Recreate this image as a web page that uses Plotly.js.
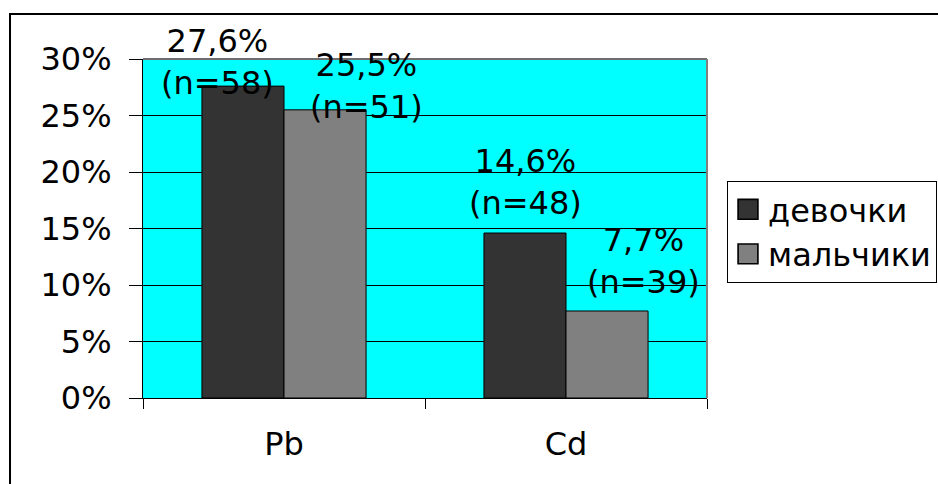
<!DOCTYPE html>
<html>
<head>
<meta charset="utf-8">
<script src="https://cdn.plot.ly/plotly-3.0.1.min.js"></script>
<style>
html,body{margin:0;padding:0;background:#fff;}
#chart{width:938px;height:484px;}
</style>
</head>
<body>
<div id="chart"></div>
<script>
// ---- data ----
const categories = ['Pb', 'Cd'];
const seriesNames = ['девочки', 'мальчики'];
const girlsPct = [27.6, 14.6];
const boysPct = [25.5, 7.7];
const girlsN = [58, 48];
const boysN = [51, 39];
const yTickVals = [0, 5, 10, 15, 20, 25, 30];
const yTickText = ['0%', '5%', '10%', '15%', '20%', '25%', '30%'];

// ---- label placement (style only) ----
const girlsLabelShift = [[-67, 24], [-41, 51]];
const boysLabelShift = [[82, 24], [77, 50]];

const FONT = 'DejaVu Sans, Liberation Sans, Arial, sans-serif';
const FS = 32;

function fmt(v, n) {
  return v.toFixed(1).replace('.', ',') + '%<br>(n=' + n + ')';
}

const traces = [
  {
    type: 'bar', name: seriesNames[0], x: categories, y: girlsPct,
    marker: {color: '#333333', line: {color: '#000000', width: 1}},
    hoverinfo: 'none'
  },
  {
    type: 'bar', name: seriesNames[1], x: categories, y: boysPct,
    marker: {color: '#808080', line: {color: '#000000', width: 1}},
    hoverinfo: 'none'
  }
];

const annotations = [];
categories.forEach((c, i) => {
  annotations.push({
    x: c, y: girlsPct[i], xref: 'x', yref: 'y', showarrow: false,
    text: fmt(girlsPct[i], girlsN[i]), xshift: girlsLabelShift[i][0], yshift: girlsLabelShift[i][1],
    xanchor: 'center', yanchor: 'middle', font: {family: FONT, size: FS, color: '#000'}
  });
  annotations.push({
    x: c, y: boysPct[i], xref: 'x', yref: 'y', showarrow: false,
    text: fmt(boysPct[i], boysN[i]), xshift: boysLabelShift[i][0], yshift: boysLabelShift[i][1],
    xanchor: 'center', yanchor: 'middle', font: {family: FONT, size: FS, color: '#000'}
  });
});

const layout = {
  width: 938, height: 484,
  margin: {l: 143, r: 231, t: 59, b: 86, pad: 0, autoexpand: false},
  paper_bgcolor: '#ffffff',
  plot_bgcolor: '#00ffff',
  font: {family: FONT, size: FS, color: '#000'},
  barmode: 'group',
  bargap: 0.418,
  bargroupgap: 0,
  showlegend: true,
  legend: {
    xref: 'container', yref: 'container',
    x: 727 / 938, xanchor: 'left', y: (484 - 181) / 484, yanchor: 'top',
    bordercolor: '#000', borderwidth: 1, bgcolor: '#fff',
    font: {family: FONT, size: FS, color: '#000'},
    itemclick: false, itemdoubleclick: false
  },
  xaxis: {
    type: 'category',
    showgrid: false, zeroline: false,
    showline: true, linecolor: '#000', linewidth: 1,
    ticks: 'outside', tickson: 'boundaries', ticklen: 10, tickcolor: '#000', tickwidth: 1,
    ticklabelstandoff: 18,
    tickfont: {family: FONT, size: FS, color: '#000'}
  },
  yaxis: {
    range: [0, 30],
    tickvals: yTickVals, ticktext: yTickText,
    showgrid: true, gridcolor: '#000', gridwidth: 1,
    zeroline: false,
    showline: true, linecolor: '#000', linewidth: 1,
    ticks: 'outside', ticklen: 13, tickcolor: '#000', tickwidth: 1,
    ticklabelstandoff: 11,
    tickfont: {family: FONT, size: FS, color: '#000'}
  },
  annotations: annotations,
  shapes: [
    {type: 'line', xref: 'paper', yref: 'paper', x0: 0, x1: 1, y0: 1, y1: 1, line: {color: '#6e6e6e', width: 2}},
    {type: 'line', xref: 'paper', yref: 'paper', x0: 1, x1: 1, y0: 0, y1: 1, line: {color: '#808080', width: 2}},
    {type: 'rect', xref: 'paper', yref: 'paper', x0: -0.2358, x1: 1.6, y0: -0.5, y1: 1.1327, line: {color: '#000', width: 2}, layer: 'below'}
  ]
};

Plotly.newPlot('chart', traces, layout, {displayModeBar: false, staticPlot: true}).then(gd => {
  // enlarge legend swatches to match reference
  gd.querySelectorAll('.legend .legendpoints path').forEach(p => {
    const t = p.getAttribute('transform') || '';
    p.setAttribute('transform', t + ' scale(1.65)');
  });
});
</script>
</body>
</html>
